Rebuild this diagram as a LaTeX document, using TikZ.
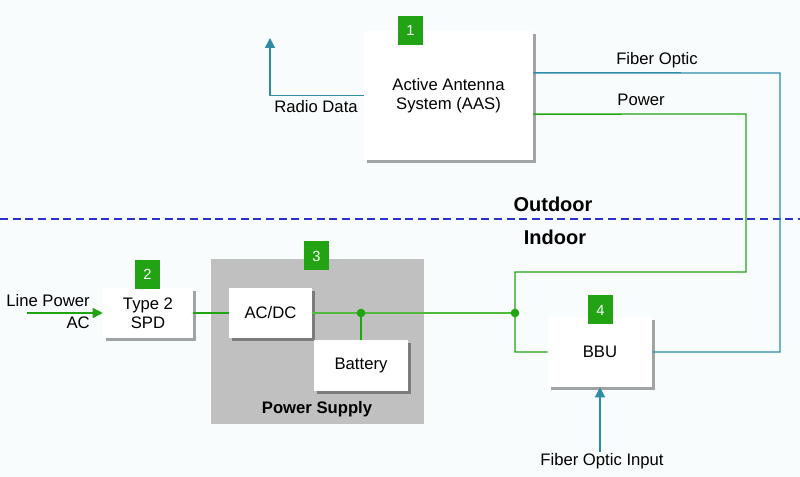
\documentclass[tikz,border=0pt]{standalone}
\usepackage{fontspec}
\setmainfont{Liberation Sans}
\usetikzlibrary{arrows.meta,shadows,calc}
\definecolor{bgc}{RGB}{248,252,252}
\definecolor{grn}{RGB}{34,163,20}
\definecolor{grnl}{RGB}{80,186,60}
\definecolor{tealc}{RGB}{46,140,168}
\definecolor{dashc}{RGB}{40,50,205}
\definecolor{psgray}{RGB}{192,192,192}
\tikzset{
  box/.style={draw=none, fill=white, align=center, font=\fontsize{12.5}{14.5}\selectfont, inner sep=0pt,
    drop shadow={shadow xshift=2.5pt, shadow yshift=-2.5pt, fill=black, opacity=0.35}},
  badge/.style={fill=grn, text=white, minimum width=18.75pt, minimum height=21.75pt, inner sep=0pt, font=\fontsize{11}{13}\selectfont},
  lbl/.style={font=\fontsize{12.5}{14.5}\selectfont, inner sep=0pt},
  blbl/.style={font=\bfseries\fontsize{15}{18}\selectfont, inner sep=0pt},
  gline/.style={draw=grn, line width=1.1pt},
  tline/.style={draw=tealc, line width=1.1pt},
  tarrow/.style={tline, -{Triangle[width=7.5pt,length=7.5pt]}},
  garrow/.style={gline, -{Triangle[width=7.5pt,length=7.5pt]}},
  dot/.style={circle, fill=grn, inner sep=0pt, minimum size=6.5pt}
}
\begin{document}
\begin{tikzpicture}[x=0.75pt,y=-0.75pt]
\fill[bgc] (0,0) rectangle (800,477);
\useasboundingbox (0,0) rectangle (800,477);

% outdoor/indoor separator
\draw[dashc, line width=2pt, dash pattern=on 6pt off 3.5pt] (0,219) -- (800,219);
\node[blbl] (outdoor) at (553,204) {Outdoor};
\node[blbl] (indoor) at (555,237) {Indoor};

% power supply container
\node[fill=psgray, minimum width=159.75pt, minimum height=123.75pt, inner sep=0pt] (ps) at (317.5,341.5) {};
\node[font=\bfseries\fontsize{12.5}{14.5}\selectfont, inner sep=0pt] (pslbl) at (317,409) {Power Supply};

% boxes
\node[box, minimum width=126.75pt, minimum height=96.75pt] (aas) at (448.5,95.5) {Active Antenna\\System (AAS)};
\node[box, minimum width=67.5pt, minimum height=37.5pt] (spd) at (148,313) {Type 2\\SPD};
\node[box, minimum width=62.25pt, minimum height=37.5pt] (acdc) at (270.5,313) {AC/DC};
\node[box, minimum width=70.5pt, minimum height=38.25pt] (bat) at (361,365.5) {Battery};
\node[box, minimum width=78pt, minimum height=52.5pt] (bbu) at (600,352) {BBU};

% badges
\node[badge] (b1) at (410.5,30.5) {1};
\node[badge] (b2) at (147.5,274.5) {2};
\node[badge] (b3) at (316.5,256) {3};
\node[badge] (b4) at (600.5,310) {4};

% coordinates
\coordinate (rdtip) at (270,38);
\coordinate (fo1) at (780,73);
\coordinate (pw1) at (746,114);
\coordinate (pw2) at (515,272);
\coordinate (jb) at (361,313);
\coordinate (jn) at (515,313);
\coordinate (lp) at (27,313);
\coordinate (fi) at (600,452);

% teal connectors
\draw[tarrow] (aas.west) -| (rdtip);
\node[lbl] (rdl) at (316,107) {Radio Data};
\draw[tline] ([yshift=16.9pt]aas.east) -- (fo1) |- (bbu.east);
\node[lbl] (fol) at (657,60) {Fiber Optic};
\draw[tarrow] (fi) -- (bbu.south);
\node[lbl] (fil) at (602,461) {Fiber Optic Input};

% green connectors
\draw[gline] ([yshift=-13.9pt]aas.east) -- (pw1) |- (pw2) -- (jn) |- (bbu.west);
\node[lbl] (pwl) at (641,100) {Power};
\draw[garrow] (lp) -- (spd.west);
\node[lbl, anchor=east] (lpl) at (90,301) {Line Power};
\node[lbl, anchor=east] (acl) at (90,323) {AC};
\draw[gline, line width=0.9pt] (spd.east) -- (acdc.west);
\draw[draw=grnl, line width=1.1pt] (acdc.east) -- (jb) -- (jn);
\draw[gline] (jb) -- (bat.north);
\node[dot] (d1) at (jb) {};
\node[dot] (d2) at (jn) {};
\end{tikzpicture}
\end{document}
